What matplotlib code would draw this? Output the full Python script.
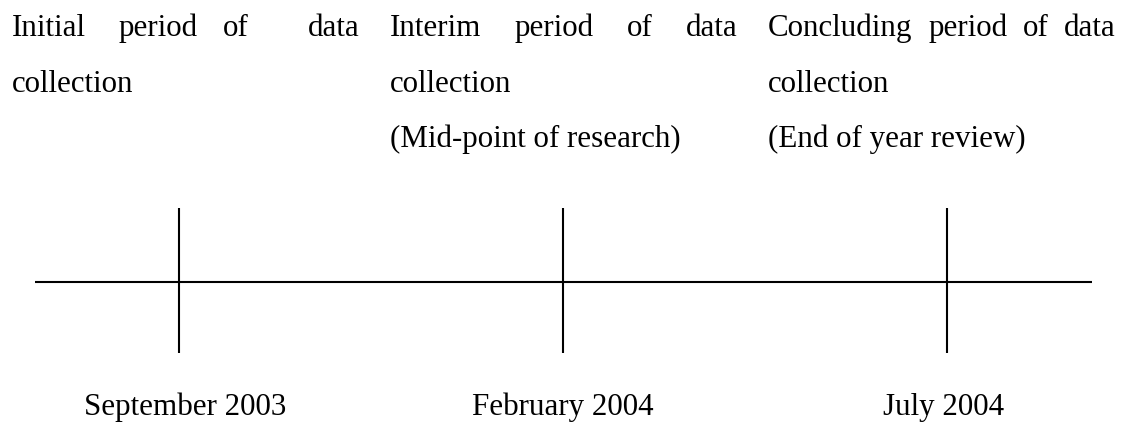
import matplotlib
matplotlib.use("Agg")
import matplotlib.pyplot as plt

# ── Data ──────────────────────────────────────────────────────────────────────
dates = ["September 2003", "February 2004", "July 2004"]
months = [0, 5, 10]          # months since September 2003
headings = [
    "Initial period of data",
    "Interim period of data",
    "Concluding period of data",
]
subtitles = ["", "(Mid-point of research)", "(End of year review)"]

W, H = 1127, 431
FONT = "Liberation Serif"
FS = 22.3

fig = plt.figure(figsize=(W / 100, H / 100), dpi=100)
fig.patch.set_facecolor("white")

# timeline axes in months, text axes in pixels
ax = fig.add_axes([0, 0, 1, 1])
px_per_month = 76.8
x0 = 179
ax.set_xlim(-x0 / px_per_month, (W - x0) / px_per_month)
ax.set_ylim(H, 0)
ax.axis("off")

tax = fig.add_axes([0, 0, 1, 1], sharey=ax)
tax.set_xlim(0, W)
tax.axis("off")

# ── Timeline ──────────────────────────────────────────────────────────────────
line_y = 283
ax.plot([months[0] - 1.87, months[-1] + 1.89], [line_y, line_y],
        color="black", lw=1.5, solid_capstyle="butt")
ax.vlines(months, 209, 354, color="black", lw=1.5)

# ── Text ──────────────────────────────────────────────────────────────────────
renderer = fig.canvas.get_renderer()


def justified(words, left, right, y, weights=None):
    texts = [tax.text(left, y, w, fontsize=FS, family=FONT, va="baseline")
             for w in words]
    widths = [t.get_window_extent(renderer).width for t in texts]
    if weights is None:
        weights = [1] * (len(words) - 1)
    unit = (right - left - sum(widths)) / sum(weights)
    x = left
    for k, (t, w) in enumerate(zip(texts, widths)):
        t.set_x(x)
        if k < len(weights):
            x += w + unit * weights[k]


col_left = [12, 390, 768]
col_w = 348
baselines = [36, 92, 147]
gap_weights = [[1.3, 1.0, 2.4], None, None]   # first heading has an extra space
for i, head in enumerate(headings):
    justified(head.split(), col_left[i], col_left[i] + col_w, baselines[0],
              gap_weights[i])
    tax.text(col_left[i], baselines[1], "collection", fontsize=FS,
             family=FONT, va="baseline")
    if subtitles[i]:
        tax.text(col_left[i], baselines[2], subtitles[i], fontsize=FS,
                 family=FONT, va="baseline")

label_dx = [0.08, 0.0, -0.05]
for m, d, dx in zip(months, dates, label_dx):
    ax.text(m + dx, 415, d, fontsize=FS, family=FONT,
            ha="center", va="baseline")

fig.savefig("out.png", dpi=100, facecolor="white")
